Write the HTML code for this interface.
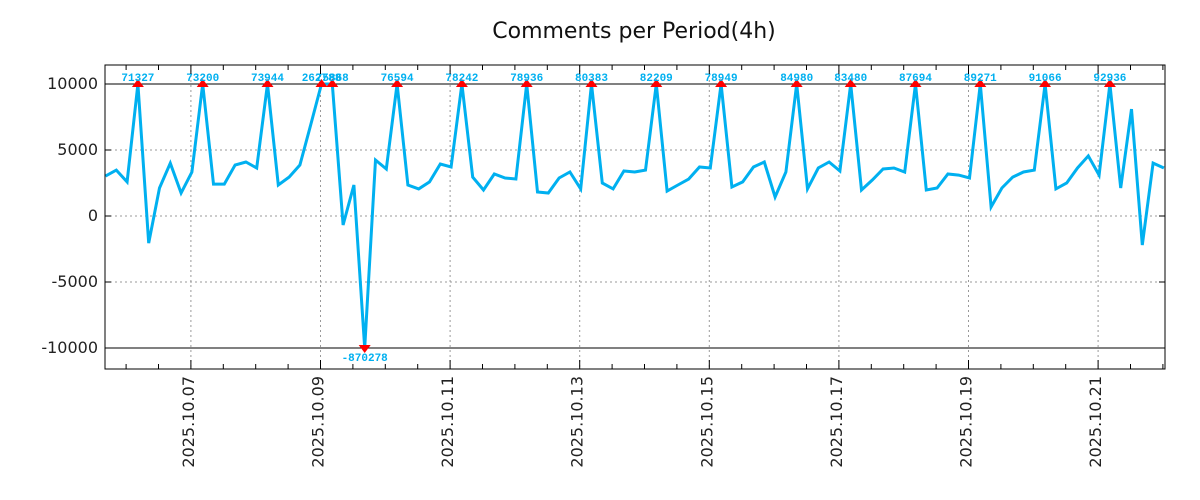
<!DOCTYPE html>
<html><head><meta charset="utf-8">
<style>
html,body{margin:0;padding:0;background:#fff;}
svg{display:block;font-family:"DejaVu Sans","Liberation Sans",sans-serif;}
</style></head>
<body>
<svg id="chart" width="1200" height="500" viewBox="0 0 1200 500" xmlns="http://www.w3.org/2000/svg">
<rect width="1200" height="500" fill="#fff"/>
<text x="634" y="38" text-anchor="middle" font-size="22" fill="#111">Comments per Period(4h)</text>
<g id="grid"></g>
<g id="series"></g>
<g id="marks"></g>
<g id="axes"></g>
</svg>
<script>
// 4h periods starting 2025.10.05 16:00
const values = [3030,3480,2580,71327,-2050,2120,4000,1740,3330,73200,2420,2420,3860,4090,3640,73944,2350,2950,3860,6900,262788,75868,-680,2350,-870278,4240,3560,76594,2350,2050,2580,3940,3710,
78242,2950,1970,3180,2880,2800,78936,1820,1740,2880,3330,2050,80383,2500,2050,3410,3330,3480,82209,1890,2350,2800,3710,3640,78949,2200,2580,3710,4090,1440,3330,84980,
2050,3640,4090,3410,83480,1970,2730,3560,3640,3330,87694,1970,2120,3180,3100,2880,89271,680,2120,2950,3330,3480,91066,2050,2500,3640,4550,3100,92936,2120,8100,-2200,4010,3640];
const xTickLabels = ["2025.10.07","2025.10.09","2025.10.11","2025.10.13","2025.10.15","2025.10.17","2025.10.19","2025.10.21"];
const xTickIndex = [8,20,32,44,56,68,80,92];
const yTicks = [-10000,-5000,0,5000,10000];
const clipLimit = 10000;

const L=105,R=1165,T=65,B=369;
const x0=105.5, step=10.8;
const xs=i=>x0+step*i;
const ys=v=>216-v*0.0132;
const NS="http://www.w3.org/2000/svg";
function mk(tag,attrs,parent){const e=document.createElementNS(NS,tag);for(const k in attrs)e.setAttribute(k,attrs[k]);parent.appendChild(e);return e;}
const grid=document.getElementById('grid'),series=document.getElementById('series'),marks=document.getElementById('marks'),axes=document.getElementById('axes');

yTicks.forEach(v=>{
  const solid=Math.abs(v)===clipLimit;
  const ln=mk('line',{x1:L,x2:R,y1:ys(v),y2:ys(v),stroke:solid?'#000':'#999','stroke-width':1,'stroke-dasharray':solid?'':'2,3'},grid);
  
  
  const t=mk('text',{x:98,y:ys(v)+5,'text-anchor':'end','font-size':16,fill:'#222'},axes);
  t.textContent=v;
  
  
  mk('line',{x1:L,x2:L+6,y1:ys(v),y2:ys(v),stroke:'#000'},axes);
  mk('line',{x1:R-6,x2:R,y1:ys(v),y2:ys(v),stroke:'#000'},axes);
});
xTickIndex.forEach((idx,k)=>{
  const x=xs(idx)-1;
  const g=mk('line',{x1:x,x2:x,y1:T,y2:B,stroke:'#999','stroke-dasharray':'2,3'},grid);
  
  
  const t=mk('text',{x:0,y:0,'text-anchor':'end','font-size':16,fill:'#222',transform:`translate(${x+3},${B+7}) rotate(-90)`},axes);
  t.textContent=xTickLabels[k];
  
  
});
for(let i=2;i<=98;i+=3){
  const x=xs(i)-1, major=(i-8)%12===0, len=major?9:5;
  mk('line',{x1:x,x2:x,y1:B-len,y2:B,stroke:'#000'},axes);
  mk('line',{x1:x,x2:x,y1:T,y2:T+len,stroke:'#000'},axes);
}
mk('rect',{x:L,y:T,width:R-L,height:B-T,fill:'none',stroke:'#000','stroke-width':1},axes);

const clip=v=>Math.max(-clipLimit,Math.min(clipLimit,v));
const pts=values.map((v,i)=>xs(i).toFixed(1)+','+ys(clip(v)).toFixed(1)).join(' ');
mk('clipPath',{id:'pc'},series);
mk('rect',{x:L,y:T,width:R-L,height:B-T},document.getElementById('pc'));
const pl=mk('polyline',{points:pts,fill:'none',stroke:'#00B0F0','stroke-width':3,'stroke-linejoin':'miter','clip-path':'url(#pc)'},series);



values.forEach((v,i)=>{
  if(Math.abs(v)<=clipLimit) return;
  const x=xs(i), up=v>0, y=ys(clip(v));
  const tri=up?`${x-6},${y+3} ${x+6},${y+3} ${x},${y-5}`:`${x-6},${y-3} ${x+6},${y-3} ${x},${y+5}`;
  const m=mk('polygon',{points:tri,fill:'#f00'},marks);
  
  
  const t=mk('text',{x:x,y:up?y-3:y+13,'text-anchor':'middle','font-size':11,'font-weight':'bold','font-family':'"Liberation Mono",monospace',fill:'#00B0F0'},marks);
  t.textContent=v;
  
  
});
</script>
</body></html>
